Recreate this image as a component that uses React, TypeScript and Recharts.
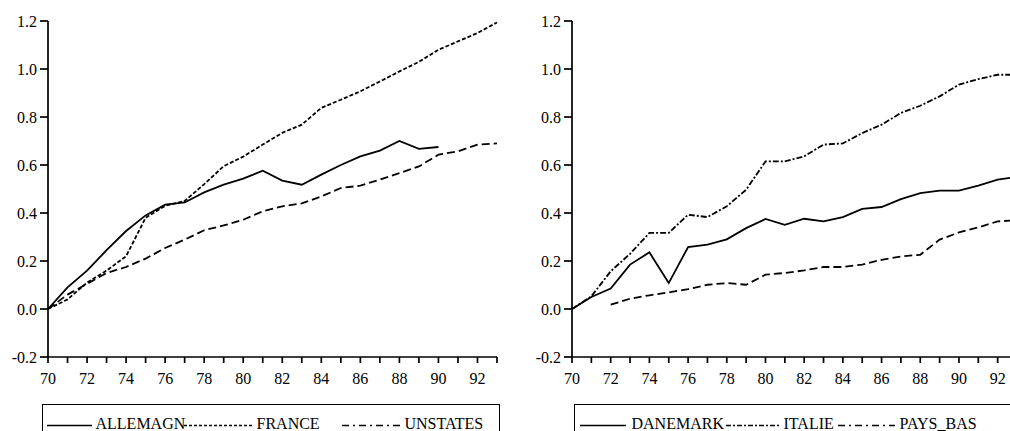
import { LineChart, Line, XAxis, YAxis } from 'recharts';

// years on the x axis (19xx)
const YEARS = [70, 71, 72, 73, 74, 75, 76, 77, 78, 79, 80, 81, 82, 83, 84, 85, 86, 87, 88, 89, 90, 91, 92, 93];
const X_TICKS = YEARS;
const Y_TICKS = [-0.2, 0, 0.2, 0.4, 0.6, 0.8, 1.0, 1.2];

// left panel
const ALLEMAGN = [0, 0.09, 0.16, 0.245, 0.325, 0.39, 0.435, 0.444, 0.486, 0.518, 0.543, 0.576, 0.535, 0.518, 0.56, 0.6, 0.636, 0.66, 0.7, 0.667, 0.675, null, null, null];
const FRANCE = [0, 0.04, 0.11, 0.16, 0.22, 0.38, 0.43, 0.45, 0.52, 0.595, 0.635, 0.685, 0.734, 0.768, 0.838, 0.872, 0.907, 0.948, 0.99, 1.03, 1.08, 1.115, 1.15, 1.194];
const UNSTATES = [0, 0.06, 0.105, 0.15, 0.175, 0.21, 0.254, 0.289, 0.328, 0.348, 0.372, 0.407, 0.428, 0.44, 0.469, 0.504, 0.514, 0.539, 0.566, 0.594, 0.643, 0.657, 0.685, 0.69];

// right panel
const DANEMARK = [0, 0.05, 0.085, 0.185, 0.236, 0.108, 0.258, 0.268, 0.29, 0.337, 0.375, 0.351, 0.376, 0.365, 0.383, 0.417, 0.425, 0.458, 0.483, 0.493, 0.493, 0.514, 0.539, 0.55];
const ITALIE = [0, 0.053, 0.157, 0.23, 0.317, 0.317, 0.393, 0.383, 0.428, 0.497, 0.615, 0.615, 0.636, 0.685, 0.69, 0.733, 0.768, 0.817, 0.847, 0.886, 0.935, 0.958, 0.976, 0.976];
const PAYS_BAS = [null, null, 0.018, 0.043, 0.057, 0.069, 0.083, 0.101, 0.108, 0.101, 0.143, 0.15, 0.161, 0.175, 0.175, 0.185, 0.205, 0.219, 0.226, 0.289, 0.319, 0.34, 0.365, 0.37];

const leftData = YEARS.map((year, i) => ({ year, a: ALLEMAGN[i], b: FRANCE[i], c: UNSTATES[i] }));
const rightData = YEARS.map((year, i) => ({ year, a: DANEMARK[i], b: ITALIE[i], c: PAYS_BAS[i] }));

const FONT = 'Liberation Serif, serif';
const axisStyle = { stroke: '#000', strokeWidth: 1.7 };

type Series = { key: string; name: string; dash?: string };

// tick labels drawn by hand so the serif font and size stick
function XTick(props: any) {
  const { x, y, payload } = props;
  const v = payload.value as number;
  if (v % 2 !== 0 || v >= 93) return <g />;
  return (
    <text x={x} y={y} dy="0.71em" textAnchor="middle" fontSize={16} fontFamily={FONT} fill="#000">
      {v}
    </text>
  );
}

function YTick(props: any) {
  const { x, y, payload } = props;
  return (
    <text x={x} y={y} dy="0.355em" textAnchor="end" fontSize={16} fontFamily={FONT} fill="#000">
      {(payload.value as number).toFixed(1)}
    </text>
  );
}

function Panel({ data, series, left, width }: { data: any[]; series: Series[]; left: number; width: number }) {
  return (
    <div style={{ position: 'absolute', left, top: 0 }}>
      <LineChart width={width} height={431} data={data} margin={{ top: 21, right: 8, left: 0, bottom: 44 }}>
        <XAxis
          xAxisId="bottom"
          dataKey="year"
          type="number"
          domain={[70, 93]}
          ticks={X_TICKS}
          interval={0}
          tick={<XTick />}
          tickSize={6}
          tickMargin={10}
          height={30}
          axisLine={axisStyle}
          tickLine={axisStyle}
        />
        <XAxis xAxisId="top" orientation="top" dataKey="year" type="number" domain={[70, 93]} height={0} tick={false} tickLine={false} axisLine={axisStyle} />
        <YAxis
          yAxisId="left"
          type="number"
          domain={[-0.2, 1.2]}
          ticks={Y_TICKS}
          interval={0}
          tick={<YTick />}
          tickSize={8}
          tickMargin={3}
          width={48}
          axisLine={axisStyle}
          tickLine={axisStyle}
        />
        <YAxis yAxisId="right" orientation="right" type="number" domain={[-0.2, 1.2]} width={0} tick={false} tickLine={false} axisLine={axisStyle} />
        {series.map((s) => (
          <Line
            key={s.key}
            xAxisId="bottom"
            yAxisId="left"
            type="linear"
            dataKey={s.key}
            name={s.name}
            stroke="#000"
            strokeWidth={1.8}
            strokeDasharray={s.dash}
            dot={false}
            activeDot={false}
            isAnimationActive={false}
          />
        ))}
      </LineChart>
    </div>
  );
}

type LegendItem = { name: string; dash?: string; x1: number; x2: number; tx: number };

function BoxLegend({ left, width, items }: { left: number; width: number; items: LegendItem[] }) {
  return (
    <div style={{ position: 'absolute', left, top: 404, width, height: 40, border: '1.5px solid #000', boxSizing: 'border-box' }}>
      <svg width={width} height={40} style={{ position: 'absolute', left: -1.5, top: -1.5 }}>
        {items.map((it) => (
          <line key={it.name} x1={it.x1 - left} x2={it.x2 - left} y1={21.5} y2={21.5} stroke="#000" strokeWidth={1.6} strokeDasharray={it.dash} />
        ))}
      </svg>
      {items.map((it) => (
        <span key={it.name} style={{ position: 'absolute', left: it.tx - left - 1.5, top: 11, fontSize: 16, lineHeight: '16px', fontFamily: FONT, whiteSpace: 'nowrap' }}>
          {it.name}
        </span>
      ))}
    </div>
  );
}

const leftSeries: Series[] = [
  { key: 'a', name: 'ALLEMAGN' },
  { key: 'b', name: 'FRANCE', dash: '4 2' },
  { key: 'c', name: 'UNSTATES', dash: '8 4' },
];
const rightSeries: Series[] = [
  { key: 'a', name: 'DANEMARK' },
  { key: 'b', name: 'ITALIE', dash: '6 2 2 2' },
  { key: 'c', name: 'PAYS_BAS', dash: '8 4' },
];

export default function App() {
  return (
    <div style={{ position: 'absolute', left: 0, top: 0, width: 1010, height: 431, overflow: 'hidden', background: '#fff', fontFamily: FONT }}>
      <Panel data={leftData} series={leftSeries} left={0} width={505} />
      <Panel data={rightData} series={rightSeries} left={524} width={501} />
      <BoxLegend
        left={42}
        width={458}
        items={[
          { name: 'ALLEMAGN', x1: 47, x2: 92, tx: 96 },
          { name: 'FRANCE', dash: '3 2', x1: 184, x2: 252, tx: 257 },
          { name: 'UNSTATES', dash: '7 4 2 4', x1: 342, x2: 400, tx: 405 },
        ]}
      />
      <BoxLegend
        left={574}
        width={460}
        items={[
          { name: 'DANEMARK', x1: 580, x2: 626, tx: 632 },
          { name: 'ITALIE', dash: '5 2 2 2', x1: 726, x2: 779, tx: 784 },
          { name: 'PAYS_BAS', dash: '7 4 2 4', x1: 838, x2: 895, tx: 900 },
        ]}
      />
    </div>
  );
}
